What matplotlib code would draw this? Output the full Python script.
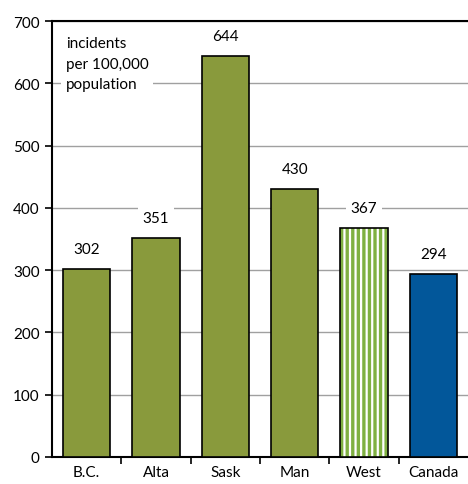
import matplotlib
matplotlib.use("Agg")
import matplotlib.pyplot as plt
from matplotlib.ticker import MultipleLocator, FixedLocator

categories = ["B.C.", "Alta", "Sask", "Man", "West", "Canada"]
values = [302, 351, 644, 430, 367, 294]
face_colors = ["#899A3C", "#899A3C", "#899A3C", "#899A3C", "white", "#02579A"]
hatches = [None, None, None, None, "|||", None]

plt.rcParams["font.family"] = ["Lato", "DejaVu Sans"]
plt.rcParams["hatch.linewidth"] = 2.4

FS = 11
fig = plt.figure(figsize=(4.68, 4.85), dpi=100)
ax = fig.add_axes([52 / 468, 1 - 458 / 485, 416 / 468, 436 / 485])

x = list(range(len(categories)))
for i, (v, fc, h) in enumerate(zip(values, face_colors, hatches)):
    if h:
        ax.bar(i, v, width=0.68, color="white", edgecolor="#7FB041", hatch=h,
               linewidth=0, zorder=3)
        ax.bar(i, v, width=0.68, fill=False, edgecolor="black", linewidth=1.2, zorder=4)
    else:
        ax.bar(i, v, width=0.68, color=fc, edgecolor="black", linewidth=1.2, zorder=3)
    ax.annotate(str(v), (i, v), xytext=(0, 9.5), textcoords="offset points",
                ha="center", va="bottom", fontsize=FS, zorder=5,
                bbox=dict(boxstyle="square,pad=0.3", fc="white", ec="none"))

ax.set_xlim(-0.5, 5.5)
ax.set_ylim(0, 700)
ax.yaxis.set_major_locator(MultipleLocator(100))
ax.grid(axis="y", color="#A0A0A0", linewidth=1, zorder=0)
ax.set_axisbelow(True)

ax.set_xticks(x)
ax.set_xticklabels(categories, fontsize=FS)
ax.xaxis.set_minor_locator(FixedLocator([0.5, 1.5, 2.5, 3.5, 4.5]))
ax.tick_params(axis="x", which="major", length=0, pad=6)
ax.tick_params(axis="x", which="minor", length=5, width=1.2, direction="out")
ax.tick_params(axis="y", length=5, width=1.2, direction="out", labelsize=FS, pad=4)

for s in ["left", "bottom", "top"]:
    ax.spines[s].set_linewidth(1.5)
    ax.spines[s].set_color("black")
ax.spines["right"].set_visible(False)

ax.text(0.033, 0.966, "incidents\nper 100,000\npopulation", transform=ax.transAxes,
        ha="left", va="top", fontsize=FS, linespacing=1.62, zorder=5,
        bbox=dict(boxstyle="square,pad=0.3", fc="white", ec="none"))

fig.savefig("out.png", dpi=100)
